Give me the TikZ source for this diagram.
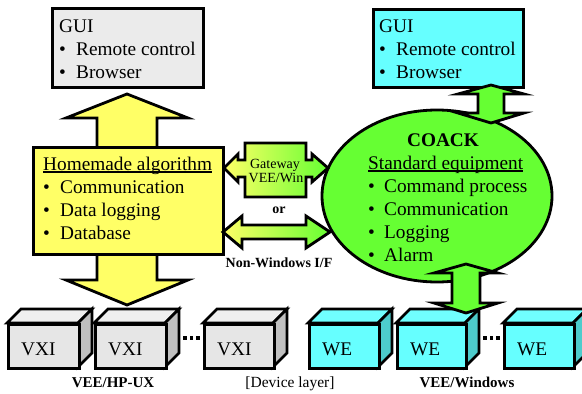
\documentclass[tikz,border=0pt]{standalone}
\usepackage{fontspec}
\setmainfont{Liberation Serif}
\usetikzlibrary{shapes.geometric}
\definecolor{guigray}{HTML}{EBEBEB}
\definecolor{guicyan}{HTML}{66FFFF}
\definecolor{hyellow}{HTML}{FFFF66}
\definecolor{cgreen}{HTML}{66FF33}
\definecolor{cubefront}{HTML}{E6E6E6}
\definecolor{cubetop}{HTML}{EFEFEF}
\definecolor{cubeside}{HTML}{C0C0C0}
\definecolor{wefront}{HTML}{66FFFF}
\definecolor{wetop}{HTML}{70FFFF}
\definecolor{weside}{HTML}{4DCCCC}
\tikzset{
  outl/.style={draw=black, line width=2.8pt, line join=miter},
  txt/.style={font=\fontsize{19.3}{23}\selectfont, inner sep=0pt, anchor=base west},
  smalltxt/.style={font=\fontsize{14}{14}\selectfont, inner sep=0pt, anchor=base},
  labtxt/.style={font=\fontsize{15}{15}\selectfont\bfseries, inner sep=0pt, anchor=base},
  boxnode/.style={outl, anchor=north west, inner sep=0pt},
  uline/.style={line width=1.1pt},
  dotsq/.style={fill=black, minimum size=3.6pt, inner sep=0pt},
}
% x0, width, front, top, side, label, name
\newcommand{\devcube}[7]{%
  \path[outl, fill=#4] (#1,323) -- (#1+14,309) -- (#1+#2+14,309) -- (#1+#2,323) -- cycle;
  \path[outl, fill=#5] (#1+#2,323) -- (#1+#2+14,309) -- (#1+#2+14,353) -- (#1+#2,367) -- cycle;
  \node[boxnode, fill=#3, minimum width=#2pt, minimum height=44pt] (#7) at (#1,323) {};
  \node[txt] (#7t) at (#1+14,355) {#6};
}
\begin{document}
\begin{tikzpicture}[x=1pt,y=-1pt]
\useasboundingbox (0,0) rectangle (582,394);
\clip (0,0) rectangle (582,394);

% ---------- left column ----------
\path[outl, fill=hyellow] (127,94) -- (188,118) -- (157,118) -- (157,280) -- (188,280)
  -- (127,305) -- (66,280) -- (97,280) -- (97,118) -- (66,118) -- cycle;
\node[boxnode, fill=hyellow, minimum width=190pt, minimum height=107pt] (home) at (32,146) {};
\node[txt] (homeT) at (43,170) {Homemade algorithm};
\draw[uline] ([yshift=-2pt]homeT.base west) -- ([yshift=-2pt]homeT.base east);
\node[txt] (homeB1) at (43,193) {•}; \node[txt] (home1) at (60,193) {Communication};
\node[txt] (homeB2) at (43,216) {•}; \node[txt] (home2) at (60,216) {Data logging};
\node[txt] (homeB3) at (43,239) {•}; \node[txt] (home3) at (60,239) {Database};

\node[boxnode, fill=guigray, minimum width=151pt, minimum height=79pt] (guiL) at (51,7) {};
\node[txt] (guiLT) at (59,32) {GUI};
\node[txt] (guiLB1) at (59,55) {•}; \node[txt] (guiL1) at (76,55) {Remote control};
\node[txt] (guiLB2) at (59,78) {•}; \node[txt] (guiL2) at (76,78) {Browser};

% ---------- cubes ----------
\devcube{7}{71}{cubefront}{cubetop}{cubeside}{VXI}{vxiA}
\devcube{94}{71}{cubefront}{cubetop}{cubeside}{VXI}{vxiB}
\devcube{203}{70}{cubefront}{cubetop}{cubeside}{VXI}{vxiC}
\node[dotsq] (vd1) at (185,338) {};
\node[dotsq] (vd2) at (191.5,338) {};
\node[dotsq] (vd3) at (198,338) {};

\devcube{308}{70}{wefront}{wetop}{weside}{WE}{weA}
\devcube{396}{69}{wefront}{wetop}{weside}{WE}{weB}
\devcube{503}{70}{wefront}{wetop}{weside}{WE}{weC}
\node[dotsq] (wd1) at (485,338) {};
\node[dotsq] (wd2) at (491.5,338) {};
\node[dotsq] (wd3) at (498,338) {};

% ---------- right column ----------
\node[outl, fill=cgreen, ellipse, minimum width=230pt, minimum height=172pt, inner sep=0pt] (coack) at (437,196) {};
\node[txt, font=\fontsize{19.3}{23}\selectfont\bfseries, anchor=base] (coackT) at (443,146) {COACK};
\node[txt] (stdT) at (368,169) {Standard equipment};
\draw[uline] ([yshift=-2pt]stdT.base west) -- ([yshift=-2pt]stdT.base east);
\node[txt] (cB1) at (368,192) {•}; \node[txt] (c1) at (384,192) {Command process};
\node[txt] (cB2) at (368,215) {•}; \node[txt] (c2) at (384,215) {Communication};
\node[txt] (cB3) at (368,238) {•}; \node[txt] (c3) at (384,238) {Logging};
\node[txt] (cB4) at (368,261) {•}; \node[txt] (c4) at (384,261) {Alarm};

\node[boxnode, fill=guicyan, minimum width=150pt, minimum height=78pt] (guiR) at (372,8) {};
\node[txt] (guiRT) at (379,32) {GUI};
\node[txt] (guiRB1) at (379,55) {•}; \node[txt] (guiR1) at (396,55) {Remote control};
\node[txt] (guiRB2) at (379,78) {•}; \node[txt] (guiR2) at (396,78) {Browser};

% green double arrows
\path[outl, fill=cgreen] (491,85) -- (524,94) -- (504,94) -- (504,113) -- (524,113)
  -- (491,123) -- (458,113) -- (478,113) -- (478,94) -- (458,94) -- cycle;
\path[outl, fill=cgreen] (466,264) -- (498,273) -- (480,273) -- (480,303) -- (498,303)
  -- (466,313) -- (434,303) -- (452,303) -- (452,273) -- (434,273) -- cycle;

% ---------- middle connectors ----------
\path[outl, left color=hyellow, right color=cgreen] (224,168) -- (238,154) -- (238,160) -- (245,160)
  -- (245,143) -- (306,143) -- (306,160) -- (312,160) -- (312,154) -- (328,168)
  -- (312,182) -- (312,177) -- (306,177) -- (306,197) -- (245,197) -- (245,177)
  -- (238,177) -- (238,182) -- cycle;
\node[smalltxt] (gw1) at (275,168) {Gateway};
\node[smalltxt] (gw2) at (276,182) {VEE/Win};
\node[smalltxt, font=\fontsize{14}{14}\selectfont\bfseries] (orT) at (279,213) {or};

\path[outl, left color=hyellow, right color=cgreen] (223,232) -- (242,216) -- (242,225) -- (306,225)
  -- (306,216) -- (330,232) -- (306,248) -- (306,239) -- (242,239) -- (242,248) -- cycle;
\node[smalltxt, font=\fontsize{14}{14}\selectfont\bfseries] (nwT) at (279,267) {Non-Windows I/F};

% ---------- bottom labels ----------
\node[labtxt] (hpux) at (113,387) {VEE/HP-UX};
\node[labtxt, font=\fontsize{15.5}{15}\selectfont] (devl) at (290,387) {[Device layer]};
\node[labtxt] (veew) at (467,387) {VEE/Windows};
\end{tikzpicture}
\end{document}
